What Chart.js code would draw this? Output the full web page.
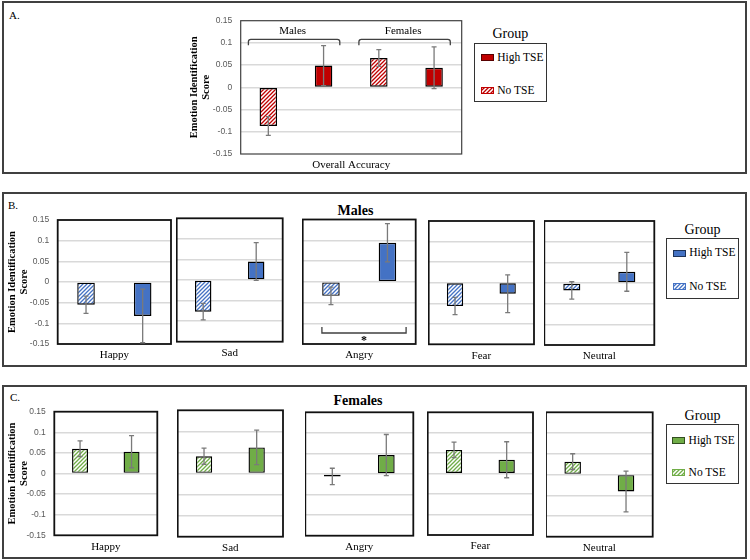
<!DOCTYPE html>
<html><head><meta charset="utf-8">
<script src="https://cdn.jsdelivr.net/npm/chart.js@4.4.1/dist/chart.umd.min.js"></script>
<style>
body{margin:0;background:#fff;}
#root{position:relative;width:750px;height:560px;overflow:hidden;font-family:'Liberation Serif',serif;color:#000;background:#fff;}
.panel{position:absolute;border:2px solid #404040;box-sizing:border-box;}
.txt{position:absolute;white-space:nowrap;line-height:1;}
.lgbox{position:absolute;border:1.5px solid #333;box-sizing:border-box;}
canvas{position:absolute;}
</style></head><body><div id="root"></div>
<script>
// ---------------- DATA ----------------
const yTicks = [-0.15, -0.1, -0.05, 0, 0.05, 0.1, 0.15];
const yTickLabels = ['-0.15', '-0.1', '-0.05', '0', '0.05', '0.1', '0.15'];
const groups = ['No TSE', 'High TSE'];
const yTitleLines = ['Emotion Identification', 'Score'];

const overallCats = ['Males', 'Females'];
const overallNo = [-0.087, 0.066];
const overallNoErr = [0.021, 0.019];
const overallHigh = [0.049, 0.044];
const overallHighErr = [0.045, 0.047];

const emotions = ['Happy', 'Sad', 'Angry', 'Fear', 'Neutral'];
const malesNo = [-0.055, -0.077, -0.034, -0.057, -0.018];
const malesNoErr = [0.021, 0.020, 0.021, 0.021, 0.021];
const malesHigh = [-0.082, 0.045, 0.094, -0.027, 0.027];
const malesHighErr = [0.065, 0.046, 0.046, 0.046, 0.047];
const malesSig = [{category: 'Angry', label: '*'}];

const femalesNo = [0.060, 0.041, -0.006, 0.058, 0.031];
const femalesNoErr = [0.019, 0.019, 0.020, 0.019, 0.019];
const femalesHigh = [0.053, 0.062, 0.046, 0.034, -0.041];
const femalesHighErr = [0.039, 0.041, 0.050, 0.044, 0.049];

// ---------------- STYLE / LAYOUT ----------------
const COL = {A: '#C00000', B: '#4472C4', C: '#70AD47'};
const SERIF = "'Liberation Serif', 'Times New Roman', serif";
const SANS = "'Liberation Sans', Arial, sans-serif";
Chart.defaults.font.family = SERIF;

const root = document.getElementById('root');

function addDiv(cls, l, t, w, h) {
  const d = document.createElement('div'); d.className = cls;
  Object.assign(d.style, {left: l + 'px', top: t + 'px', width: w + 'px', height: h + 'px'});
  root.appendChild(d); return d;
}
function addText(text, x, y, opt) {
  opt = opt || {};
  const d = document.createElement('div'); d.className = 'txt'; d.textContent = text;
  d.style.left = x + 'px'; d.style.top = y + 'px';
  d.style.fontSize = (opt.size || 11) + 'px';
  if (opt.bold) d.style.fontWeight = 'bold';
  d.style.transform = opt.align === 'left' ? 'translate(0,-50%)' : 'translate(-50%,-50%)';
  root.appendChild(d); return d;
}
function makePattern(ctx, color) {
  const s = 4, c = document.createElement('canvas'); c.width = s; c.height = s;
  const g = c.getContext('2d');
  g.fillStyle = '#fff'; g.fillRect(0, 0, s, s);
  g.strokeStyle = color; g.lineWidth = 1.3;
  g.beginPath();
  g.moveTo(0, s); g.lineTo(s, 0);
  g.moveTo(-1, 1); g.lineTo(1, -1);
  g.moveTo(s - 1, s + 1); g.lineTo(s + 1, s - 1);
  g.stroke();
  return ctx.createPattern(c, 'repeat');
}

// outer panel frames
addDiv('panel', 2, 1, 745, 173);
addDiv('panel', 2, 192, 745, 175);
addDiv('panel', 2, 385, 745, 174);
addText('A.', 9, 15, {align: 'left', size: 11});
addText('B.', 8, 205, {align: 'left', size: 11});
addText('C.', 10, 397, {align: 'left', size: 11});
addText('Males', 355.5, 211, {bold: true, size: 14});
addText('Females', 358, 401, {bold: true, size: 14});

// ---------------- PLUGINS ----------------
const plotBox = {
  id: 'plotBox',
  beforeDatasetsDraw(chart, args, o) {
    const a = chart.chartArea, ctx = chart.ctx;
    ctx.save(); ctx.strokeStyle = o.color; ctx.lineWidth = o.width;
    ctx.strokeRect(a.left, a.top, a.right - a.left, a.bottom - a.top);
    ctx.restore();
  }
};
const errorBars = {
  id: 'errorBars',
  afterDatasetsDraw(chart) {
    const ctx = chart.ctx, ys = chart.scales.y;
    ctx.save(); ctx.strokeStyle = '#7a7a7a'; ctx.lineWidth = 1.3;
    chart.data.datasets.forEach((ds, di) => {
      chart.getDatasetMeta(di).data.forEach((bar, i) => {
        const v = ds.data[i], e = ds.errors[i];
        const x = bar.x, y1 = ys.getPixelForValue(v + e), y2 = ys.getPixelForValue(v - e);
        ctx.beginPath();
        ctx.moveTo(x, y1); ctx.lineTo(x, y2);
        ctx.moveTo(x - 2.5, y1); ctx.lineTo(x + 2.5, y1);
        ctx.moveTo(x - 2.5, y2); ctx.lineTo(x + 2.5, y2);
        ctx.stroke();
      });
    });
    ctx.restore();
  }
};
const braces = {
  id: 'braces',
  afterDraw(chart) {
    const ctx = chart.ctx, xs = chart.scales.x, ys = chart.scales.y, a = chart.chartArea;
    const labels = chart.data.labels, cw = (a.right - a.left) / labels.length;
    const y = ys.getPixelForValue(0.108), y2 = ys.getPixelForValue(0.095), yl = ys.getPixelForValue(0.126);
    ctx.save(); ctx.strokeStyle = '#404040'; ctx.lineWidth = 1.3;
    labels.forEach((lab, i) => {
      const cl = xs.getPixelForValue(i) - cw / 2;
      const x0 = cl + 7.7, x1 = cl + cw - 11.4, r = 2.5;
      ctx.beginPath();
      ctx.moveTo(x0, y2); ctx.lineTo(x0, y + r); ctx.quadraticCurveTo(x0, y, x0 + r, y);
      ctx.lineTo(x1 - r, y); ctx.quadraticCurveTo(x1, y, x1, y + r); ctx.lineTo(x1, y2);
      ctx.stroke();
      ctx.fillStyle = '#000'; ctx.font = '11px ' + SERIF; ctx.textAlign = 'center'; ctx.textBaseline = 'middle';
      ctx.fillText(lab, (x0 + x1) / 2 - 1.5, yl);
    });
    ctx.restore();
  }
};
const sigBracket = {
  id: 'sigBracket',
  afterDatasetsDraw(chart, args, o) {
    if (!o || !o.label) return;
    const ctx = chart.ctx, ys = chart.scales.y, a = chart.chartArea, w = a.right - a.left;
    const x0 = a.left + 0.17 * w, x1 = a.left + 0.915 * w;
    const y = ys.getPixelForValue(-0.1235), yt = ys.getPixelForValue(-0.109), ys2 = ys.getPixelForValue(-0.137);
    ctx.save(); ctx.strokeStyle = '#404040'; ctx.lineWidth = 1.3;
    ctx.beginPath(); ctx.moveTo(x0, yt); ctx.lineTo(x0, y); ctx.lineTo(x1, y); ctx.lineTo(x1, yt); ctx.stroke();
    ctx.fillStyle = '#000'; ctx.font = 'bold 12px ' + SERIF; ctx.textAlign = 'center'; ctx.textBaseline = 'middle';
    ctx.fillText(o.label, (x0 + x1) / 2, ys2 + 2);
    ctx.restore();
  }
};

// ---------------- CHART FACTORY ----------------
function buildChart(c) {
  const b = c.box;
  const scaleLeft = c.showY ? c.scaleLeft : b.l;
  const yW = b.l - scaleLeft;
  const cl = Math.floor(scaleLeft), ct = Math.floor(b.t - 7);
  const cr = Math.ceil(b.r + 3), cb = Math.ceil(c.bottom);
  const cv = document.createElement('canvas');
  cv.width = cr - cl; cv.height = cb - ct;
  Object.assign(cv.style, {left: cl + 'px', top: ct + 'px', width: (cr - cl) + 'px', height: (cb - ct) + 'px'});
  root.appendChild(cv);
  const ctx = cv.getContext('2d');
  const xH = cb - b.b;
  const ds = [
    {label: groups[0], data: c.no, errors: c.noErr, backgroundColor: makePattern(ctx, c.color)},
    {label: groups[1], data: c.high, errors: c.highErr, backgroundColor: c.color}
  ].map(d => Object.assign(d, {borderColor: '#000', borderWidth: 1.4, borderSkipped: false}));
  return new Chart(ctx, {
    type: 'bar',
    data: {labels: c.labels, datasets: ds},
    options: {
      responsive: false, animation: false, events: [],
      layout: {padding: {left: scaleLeft - cl, top: b.t - ct, right: cr - b.r, bottom: 0}},
      datasets: {bar: {categoryPercentage: 1, barPercentage: c.barPct}},
      plugins: {
        legend: {display: false}, tooltip: {enabled: false},
        plotBox: {color: c.boxColor, width: c.boxWidth},
        sigBracket: c.sig || {}
      },
      scales: {
        x: {
          offset: true,
          grid: {display: false, drawTicks: false}, border: {display: false},
          ticks: {display: !c.xTitle, padding: 5, color: '#000', maxRotation: 0, autoSkip: false,
                  font: {family: SERIF, size: 11}},
          title: c.xTitle ? {display: true, text: c.xTitle, color: '#000', font: {family: SERIF, size: 11},
                             padding: {top: 0, bottom: 3.7}} : {display: false},
          afterFit: s => { s.height = xH; }
        },
        y: {
          min: -0.15, max: 0.15,
          afterBuildTicks: s => { s.ticks = yTicks.map(v => ({value: v})); },
          grid: {drawTicks: true, tickLength: 8.5, tickColor: 'rgba(0,0,0,0)', lineWidth: 1.4,
                 color: g => Math.abs(g.tick.value) > 0.149 ? 'rgba(0,0,0,0)' : '#d9d9d9'},
          border: {display: false},
          ticks: {display: !!c.showY, padding: 0, color: '#595959', font: {family: SANS, size: 8.5},
                  callback: (v, i) => yTickLabels[i]},
          title: {display: !!c.showY, text: yTitleLines, color: '#000',
                  font: {family: SERIF, size: 10.5, weight: 'bold', lineHeight: 1.1},
                  padding: {top: 5, bottom: 0}},
          afterFit: s => { s.width = yW; }
        }
      }
    },
    plugins: [plotBox, errorBars].concat(c.extra || [])
  });
}

function buildLegend(chart, L) {
  const bx = L.box;
  addText('Group', (bx.l + bx.r) / 2, L.titleY, {size: 14});
  addDiv('lgbox', bx.l, bx.t, bx.r - bx.l, bx.b - bx.t);
  const order = chart.data.datasets.slice().reverse();
  order.forEach((d, i) => {
    const y = L.rows[i];
    const sw = document.createElement('canvas'); sw.width = 13; sw.height = 7;
    Object.assign(sw.style, {left: L.swX + 'px', top: (y - 3.5) + 'px', width: '13px', height: '7px'});
    root.appendChild(sw);
    const g = sw.getContext('2d');
    const col = chart.data.datasets[1].backgroundColor;
    g.fillStyle = typeof d.backgroundColor === 'string' ? d.backgroundColor : makePattern(g, col);
    g.fillRect(0, 0, 13, 7);
    g.strokeStyle = typeof d.backgroundColor === 'string' ? 'rgba(0,0,0,0.55)' : col;
    g.lineWidth = 1; g.strokeRect(0.5, 0.5, 12, 6);
    addText(d.label, L.txtX, y, {align: 'left', size: 11.5});
  });
}

// ---------------- PANEL A ----------------
const chartA = buildChart({
  box: {l: 240.7, t: 20.7, r: 461.7, b: 154}, showY: true, scaleLeft: 184, bottom: 175,
  labels: overallCats, no: overallNo, noErr: overallNoErr, high: overallHigh, highErr: overallHighErr,
  color: COL.A, barPct: 0.317, xTitle: 'Overall Accuracy', boxColor: '#404040', boxWidth: 1.2,
  extra: [braces]
});
buildLegend(chartA, {box: {l: 474, t: 42.7, r: 546.7, b: 102.3}, titleY: 34, rows: [57.7, 90.5], swX: 481, txtX: 497.3});

// ---------------- PANELS B & C ----------------
const boxesB = [
  {l: 57.7, t: 220, r: 171, b: 344}, {l: 176.7, t: 218.3, r: 282.7, b: 341.7},
  {l: 302.7, t: 219.5, r: 415.7, b: 344}, {l: 428.7, t: 221, r: 534, b: 344.3},
  {l: 544.3, t: 221, r: 654.3, b: 345}
];
const boxesC = [
  {l: 54.3, t: 411.7, r: 157.3, b: 535.3}, {l: 177.7, t: 410.3, r: 283, b: 536.7},
  {l: 305.3, t: 412.3, r: 413.3, b: 535.7}, {l: 427.7, t: 412.3, r: 533, b: 535},
  {l: 546, t: 412.3, r: 652.7, b: 536.7}
];
function buildRow(boxes, no, noErr, high, highErr, color, sigs, bottomPad) {
  let first = null;
  emotions.forEach((emo, i) => {
    const sig = (sigs || []).find(s => s.category === emo);
    const ch = buildChart({
      box: boxes[i], showY: i === 0, scaleLeft: 2, bottom: boxes[i].b + bottomPad,
      labels: [emo], no: [no[i]], noErr: [noErr[i]], high: [high[i]], highErr: [highErr[i]],
      color: color, barPct: 0.31, boxColor: '#111', boxWidth: 1.8,
      sig: sig ? {label: sig.label} : null, extra: sig ? [sigBracket] : []
    });
    if (!first) first = ch;
  });
  return first;
}
const chB = buildRow(boxesB, malesNo, malesNoErr, malesHigh, malesHighErr, COL.B, malesSig, 20);
buildLegend(chB, {box: {l: 666, t: 237.7, r: 739, b: 299}, titleY: 229.5, rows: [253.3, 286.7], swX: 673, txtX: 689.3});
const chC = buildRow(boxesC, femalesNo, femalesNoErr, femalesHigh, femalesHighErr, COL.C, [], 20);
buildLegend(chC, {box: {l: 666, t: 423.7, r: 739, b: 484.3}, titleY: 415.5, rows: [440.7, 472.7], swX: 672.3, txtX: 688.6});
</script>
</body></html>
